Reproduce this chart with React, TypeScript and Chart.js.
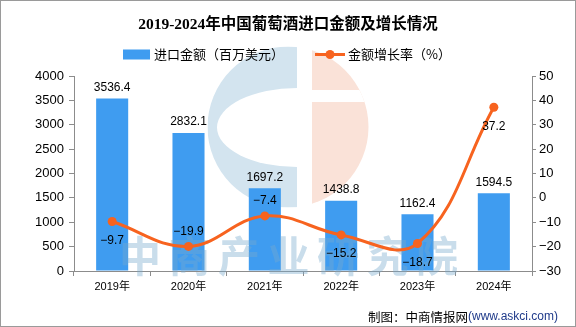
import React, { useEffect, useRef } from 'react';
import { Chart, registerables } from 'chart.js';

Chart.register(...registerables);

// ---- data ----
const years = ['2019年', '2020年', '2021年', '2022年', '2023年', '2024年'];
const importValue = [3536.4, 2832.1, 1697.2, 1438.8, 1162.4, 1594.5];
const growthRate = [-9.7, -19.9, -7.4, -15.2, -18.7, 37.2];
const growthLabelAbove = [false, true, true, false, false, false];

const titleText = '2019-2024年中国葡萄酒进口金额及增长情况';
const barLegend = '进口金额（百万美元）';
const lineLegend = '金额增长率（%）';
const footerLeft = '制图：中商情报网';
const footerUrl = '(www.askci.com)';
const watermarkText = '中商产业研究院';

// ---- styles ----
const BAR = '#3f9cf0';
const LINE = '#f7631f';
const AXIS = '#8c8c8c';
const NUM = '"Liberation Sans", "Noto Sans CJK SC", sans-serif';
const CJK = '"Noto Sans CJK SC", "Liberation Sans", sans-serif';

const fmt = (v: number) => (v < 0 ? '\u2212' : '') + Math.abs(v).toFixed(1);
const fmtInt = (v: number) => (v < 0 ? '\u2212' : '') + Math.abs(v);

const decor = {
  id: 'decor',
  beforeDatasetsDraw(chart: any) {
    const ctx = chart.ctx;
    const cx = 288, cy = 127, r = 80.5;
    ctx.save();
    ctx.beginPath();
    ctx.arc(cx, cy, r, 0, Math.PI * 2);
    ctx.clip();
    ctx.fillStyle = '#d3e4ef';
    ctx.fillRect(cx - r, cy - r, r + 9, 2 * r);
    ctx.fillStyle = '#fae2d8';
    ctx.fillRect(cx + 24, cy - r, r, 2 * r);
    ctx.fillStyle = '#ffffff';
    ctx.fillRect(cx + 24, cy - 37, 60, 12);
    ctx.save();
    ctx.beginPath();
    ctx.rect(cx - r, cy - r, r + 9, 2 * r);
    ctx.clip();
    ctx.beginPath();
    ctx.ellipse(cx + 9, cy + 0.5, 80, 39.5, 0, 0, Math.PI * 2);
    ctx.fill();
    ctx.restore();
    ctx.restore();
  },
  beforeDatasetDraw(chart: any, args: any) {
    if (args.index !== 1) return;
    const ctx = chart.ctx;
    ctx.save();
    ctx.fillStyle = 'rgba(120,170,205,0.4)';
    ctx.font = `bold 42px ${CJK}`;
    ctx.textAlign = 'center';
    ctx.textBaseline = 'middle';
    const chars = Array.from(watermarkText);
    chars.forEach((c, i) => ctx.fillText(c, 140 + i * 49.5, 256));
    ctx.restore();
  },
  afterDraw(chart: any) {
    const ctx = chart.ctx;
    ctx.save();
    // title
    ctx.fillStyle = '#000';
    ctx.textAlign = 'center';
    ctx.textBaseline = 'middle';
    ctx.font = `bold 15.5px "Liberation Serif", "Noto Sans CJK SC", serif`;
    ctx.fillText(titleText, 288, 25);

    // legend
    ctx.font = `13px ${CJK}`;
    ctx.textAlign = 'left';
    ctx.fillStyle = BAR;
    ctx.fillRect(123, 49.5, 27, 10);
    ctx.fillStyle = '#000';
    ctx.fillText(barLegend, 154, 54.5);
    ctx.strokeStyle = LINE;
    ctx.lineWidth = 3;
    ctx.beginPath();
    ctx.moveTo(315, 54.5);
    ctx.lineTo(345, 54.5);
    ctx.stroke();
    ctx.fillStyle = LINE;
    ctx.beginPath();
    ctx.arc(330, 54.5, 4.5, 0, Math.PI * 2);
    ctx.fill();
    ctx.fillStyle = '#000';
    ctx.fillText(lineLegend, 348, 54.5);

    // data labels
    ctx.font = `12px ${NUM}`;
    ctx.textAlign = 'center';
    const bars = chart.getDatasetMeta(0).data;
    bars.forEach((b: any, i: number) => {
      ctx.fillText(importValue[i].toFixed(1), b.x, b.y - 11);
    });
    const pts = chart.getDatasetMeta(1).data;
    pts.forEach((p: any, i: number) => {
      const dy = growthLabelAbove[i] ? -15 : 19;
      ctx.fillText(fmt(growthRate[i]), p.x, p.y + dy);
    });

    // footer
    ctx.textAlign = 'right';
    ctx.font = `12px ${NUM}`;
    ctx.fillStyle = '#1f3a8a';
    ctx.fillText(footerUrl, 558, 317);
    const w = ctx.measureText(footerUrl).width;
    ctx.font = `12.5px ${CJK}`;
    ctx.fillStyle = '#000';
    ctx.fillText(footerLeft, 558 - w, 317);

    // frame
    ctx.strokeStyle = '#9a9a9a';
    ctx.lineWidth = 1;
    ctx.strokeRect(0.5, 0.5, 575, 326);
    ctx.restore();
  },
};

export default function App() {
  const ref = useRef<HTMLCanvasElement | null>(null);
  useEffect(() => {
    if (!ref.current) return;
    const chart = new Chart(ref.current, {
      type: 'bar',
      data: {
        labels: years,
        datasets: [
          {
            type: 'bar',
            label: barLegend,
            data: importValue,
            backgroundColor: BAR,
            yAxisID: 'y',
            barPercentage: 0.42,
            categoryPercentage: 1,
            order: 1,
          },
          {
            type: 'line',
            label: lineLegend,
            data: growthRate,
            borderColor: LINE,
            backgroundColor: LINE,
            borderWidth: 3,
            pointRadius: 4.5,
            pointBackgroundColor: LINE,
            pointBorderWidth: 0,
            tension: 0.4,
            yAxisID: 'y1',
            order: 0,
          },
        ],
      } as any,
      options: {
        responsive: false,
        animation: false,
        devicePixelRatio: 1,
        layout: { padding: { top: 76, left: 0, right: 0, bottom: 0 } },
        plugins: {
          legend: { display: false },
          title: { display: false },
          tooltip: { enabled: false },
        },
        scales: {
          x: {
            type: 'category',
            offset: true,
            grid: { display: true, drawOnChartArea: false, drawTicks: true, tickLength: 5, color: AXIS, offset: true },
            border: { display: true, color: AXIS },
            ticks: { color: '#000', font: { family: NUM, size: 11 }, padding: 4, maxRotation: 0 },
            afterFit: (s: any) => { s.height = 56; },
          },
          y: {
            position: 'left',
            min: 0,
            max: 4000,
            ticks: {
              stepSize: 500,
              color: '#000',
              font: { family: NUM, size: 13 },
              padding: 5,
              callback: (v: any) => String(v),
            },
            grid: { drawOnChartArea: false, tickLength: 5, color: AXIS },
            border: { display: true, color: AXIS },
            afterFit: (s: any) => { s.width = 74; },
          },
          y1: {
            position: 'right',
            min: -30,
            max: 50,
            ticks: {
              stepSize: 10,
              color: '#000',
              font: { family: NUM, size: 13 },
              padding: 3,
              callback: (v: any) => fmtInt(Number(v)),
            },
            grid: { drawOnChartArea: false, tickLength: 4, color: AXIS },
            border: { display: true, color: AXIS },
            afterFit: (s: any) => { s.width = 44; },
          },
        },
      } as any,
      plugins: [decor],
    });
    return () => chart.destroy();
  }, []);
  return (
    <div style={{ position: 'absolute', left: 0, top: 0, width: 576, height: 327, background: '#fff' }}>
      <canvas ref={ref} width={576} height={327} style={{ display: 'block', width: 576, height: 327 }} />
    </div>
  );
}
